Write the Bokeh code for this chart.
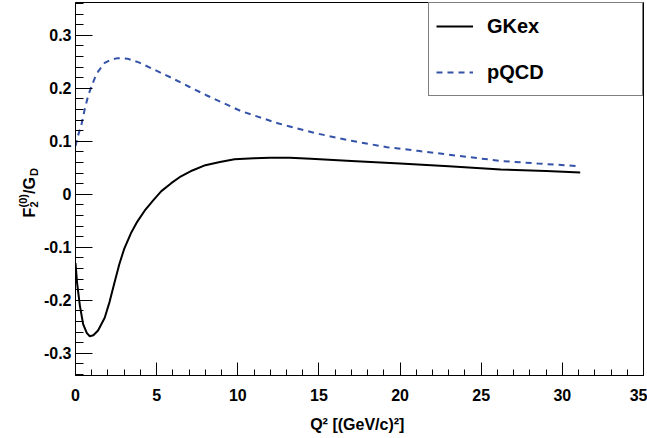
from bokeh.plotting import figure
from bokeh.layouts import row
from bokeh.models import Range1d, FixedTicker, Legend, LegendItem, ColumnDataSource
from bokeh.core.properties import value
from bokeh.embed import file_html
from bokeh.resources import INLINE
import math

# ---- data ----
q2_gkex = [0, 0.1, 0.27, 0.47, 0.7, 0.88, 1.1, 1.39, 1.8, 2.1, 2.4, 2.7, 3.0,
           3.44, 3.8, 4.26, 4.8, 5.29, 5.9, 6.5, 7.2, 8.0, 8.9, 9.8, 11.0, 12.0,
           13.2, 14.5, 17.0, 20.0, 23.0, 26.2, 29.0, 31.1]
f2_gkex = [-0.13, -0.168, -0.21, -0.245, -0.262, -0.268, -0.266, -0.257, -0.233,
           -0.203, -0.167, -0.132, -0.103, -0.072, -0.052, -0.031, -0.011, 0.006,
           0.021, 0.034, 0.045, 0.055, 0.061, 0.066, 0.068, 0.069, 0.069, 0.067,
           0.063, 0.058, 0.053, 0.047, 0.044, 0.041]

q2_pqcd = [0, 0.15, 0.37, 0.6, 0.8, 1.0, 1.2, 1.4, 1.8, 2.2, 2.6, 3.2, 3.9, 4.8,
           5.9, 7.0, 8.06, 10.2, 12.47, 14.7, 16.97, 19.2, 21.1, 23.5, 26.2, 28.5,
           31.1]
f2_pqcd = [0.091, 0.11, 0.132, 0.165, 0.188, 0.205, 0.22, 0.232, 0.248, 0.254,
           0.257, 0.256, 0.249, 0.236, 0.22, 0.203, 0.187, 0.157, 0.134, 0.116,
           0.101, 0.089, 0.082, 0.073, 0.063, 0.058, 0.053]

x_ticks = [0, 5, 10, 15, 20, 25, 30, 35]
x_minor = list(range(0, 36))
y_ticks = [-0.3, -0.2, -0.1, 0, 0.1, 0.2, 0.3]
y_tick_labels = ["-0.3", "-0.2", "-0.1", "0", "0.1", "0.2", "0.3"]
y_minor = [round(-0.34 + 0.02 * i, 2) for i in range(36)]

series_names = ["GKex", "pQCD"]
x_title = "Q\u00b2  [(GeV/c)\u00b2]"
# y title F_2^(0)/G_D in pieces
y_title_pieces = ["F", "2", "(0)", "/", "G", "D"]

FONT = "Liberation Sans"
Y0, Y1 = -0.342, 0.362
TOP, BOTTOM = 2, 63
HEIGHT = 438
LAB_W = 40

p = figure(width=647 - LAB_W, height=HEIGHT, output_backend="svg",
           toolbar_location=None,
           x_range=Range1d(0, 35), y_range=Range1d(Y0, Y1),
           min_border_left=74 - LAB_W, min_border_right=4, min_border_top=TOP,
           min_border_bottom=BOTTOM)
p.grid.visible = False
p.outline_line_color = "black"
p.outline_line_width = 1
p.outline_line_alpha = 1
p.background_fill_color = "white"
p.border_fill_color = "white"

# axes
p.xaxis.ticker = FixedTicker(ticks=x_ticks, minor_ticks=x_minor)
p.yaxis.ticker = FixedTicker(ticks=y_ticks, minor_ticks=y_minor)
p.yaxis.major_label_overrides = {t: l for t, l in zip(y_ticks, y_tick_labels)}
for ax in (p.xaxis[0], p.yaxis[0]):
    ax.axis_line_color = "black"
    ax.major_tick_out = 0
    ax.minor_tick_out = 0
    ax.major_tick_line_color = "black"
    ax.minor_tick_line_color = "black"
    ax.major_label_text_font = FONT
    ax.major_label_text_font_style = "bold"
    ax.major_label_text_font_size = "16px"
    ax.major_label_text_color = "black"
p.xaxis.major_tick_in = 13
p.xaxis.minor_tick_in = 6
p.yaxis.major_tick_in = 17
p.yaxis.minor_tick_in = 8
p.xaxis.major_label_standoff = 13
p.yaxis.major_label_standoff = 4

p.xaxis.axis_label = x_title
p.xaxis.axis_label_text_font = FONT
p.xaxis.axis_label_text_font_style = "bold"
p.xaxis.axis_label_text_font_size = "16px"
p.xaxis.axis_label_text_color = "black"
p.xaxis.axis_label_standoff = 12

# curves
r1 = p.line(q2_gkex, f2_gkex, line_color="black", line_width=2)
r2 = p.line(q2_pqcd, f2_pqcd, line_color="#3452a8", line_width=2, line_dash="6 5")

legend = Legend(items=[LegendItem(label=series_names[0], renderers=[r1]),
                       LegendItem(label=series_names[1], renderers=[r2])],
                location="top_right", margin=0, padding=7, spacing=14,
                glyph_width=37, glyph_height=32, label_height=32,
                label_width=148, label_standoff=14,
                label_text_font=FONT, label_text_font_style="bold",
                label_text_font_size="20px", label_text_color="black",
                border_line_color="black", border_line_width=1,
                background_fill_color="white", background_fill_alpha=1)
p.add_layout(legend)

# narrow side figure carrying the rotated y-axis title
lab = figure(width=LAB_W, height=HEIGHT, output_backend="svg",
             toolbar_location=None, x_range=Range1d(0, LAB_W), y_range=p.y_range,
             min_border_left=0, min_border_right=0, min_border_top=TOP,
             min_border_bottom=BOTTOM)
lab.axis.visible = False
lab.grid.visible = False
lab.outline_line_color = None
lab.border_fill_color = "white"
lab.background_fill_color = "white"

px_per_y = (HEIGHT - TOP - BOTTOM) / (Y1 - Y0)
def ydat(py):
    return Y1 - (py - TOP) / px_per_y

# page x of each piece's baseline, page y where it starts, font size
piece_x = [29, 33, 22, 29, 29, 33]
piece_py = [217, 207, 207, 193.5, 189.1, 175.5]
piece_fs = ["16px", "11px", "11px", "16px", "16px", "11px"]
src = ColumnDataSource(dict(x=piece_x, y=[ydat(v) for v in piece_py],
                            t=y_title_pieces, fs=piece_fs))
lab.text(x="x", y="y", text="t", source=src, angle=math.pi / 2,
         text_align="left", text_baseline="alphabetic",
         text_font=value(FONT), text_font_style="bold",
         text_font_size="fs", text_color="black")

layout = row(lab, p, spacing=0)
open("out.html", "w").write(file_html(layout, INLINE))
